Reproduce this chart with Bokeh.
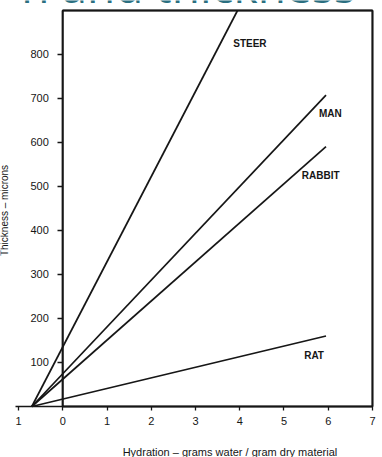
from bokeh.plotting import figure
from bokeh.models import (LinearAxis, FixedTicker, Range1d, Label, LabelSet,
                          ColumnDataSource)
from bokeh.core.properties import value
from bokeh.embed import file_html
from bokeh.resources import INLINE

# ---- data ----
species = ["STEER", "MAN", "RABBIT", "RAT"]
start_hydration = [-0.7, -0.7, -0.7, -0.7]
start_thickness = [0, 0, 0, 0]
end_hydration = [3.95, 5.95, 5.95, 5.95]
end_thickness = [899, 707, 590, 160]
label_hydration = [4.23, 6.05, 5.83, 5.68]
label_thickness = [824, 665, 524, 116]

x_ticks = [-1, 0, 1, 2, 3, 4, 5, 6, 7]
x_tick_labels = ["1", "0", "1", "2", "3", "4", "5", "6", "7"]
y_ticks = [100, 200, 300, 400, 500, 600, 700, 800]
x_bounds = (-1.07, 7)
y_bounds = (0, 899)

x_label = "Hydration \u2013 grams  water / gram dry material"
y_label = "Thickness \u2013 microns"
title_text = "n and thickness"

FONT = "Liberation Sans"
INK = "#161616"

p = figure(width=382, height=457,
           x_range=Range1d(-1.408, 7.227), y_range=Range1d(-115.8, 921.7),
           x_axis_type=None, y_axis_type=None,
           output_backend="svg", toolbar_location=None,
           min_border_left=0, min_border_right=0,
           min_border_top=0, min_border_bottom=0)
p.outline_line_color = None
p.background_fill_color = "white"
p.border_fill_color = "white"

# plot box: x from 0 to 7, thickness from 0 to the top
p.quad(left=[0], right=[x_bounds[1]], bottom=[y_bounds[0]], top=[y_bounds[1]],
       fill_color=None, line_color="#111111", line_width=1.8)


def style_axis(ax, tick_out):
    ax.axis_line_color = INK
    ax.axis_line_width = 1.6
    ax.major_tick_line_color = INK
    ax.major_tick_line_width = 1.3
    ax.major_tick_out = tick_out
    ax.major_tick_in = 0
    ax.minor_tick_line_color = None
    ax.major_label_text_font = FONT
    ax.major_label_text_font_size = "11px"
    ax.major_label_text_color = INK


xaxis = LinearAxis(ticker=FixedTicker(ticks=x_ticks), fixed_location=0,
                   bounds=x_bounds,
                   major_label_overrides={t: s for t, s in zip(x_ticks, x_tick_labels)})
style_axis(xaxis, 4)
xaxis.major_label_standoff = 7
p.add_layout(xaxis, "below")

yaxis = LinearAxis(ticker=FixedTicker(ticks=y_ticks), fixed_location=0,
                   bounds=y_bounds)
style_axis(yaxis, 5)
yaxis.major_label_standoff = 9
p.add_layout(yaxis, "left")

# box edges drawn again as plain axes lines (top and right), no ticks or labels
top_axis = LinearAxis(ticker=FixedTicker(ticks=x_ticks[1:]),
                      fixed_location=y_bounds[1], bounds=(0, x_bounds[1]),
                      major_label_overrides={t: "" for t in x_ticks})
style_axis(top_axis, 0)
top_axis.major_tick_line_color = None
p.add_layout(top_axis, "above")

right_axis = LinearAxis(ticker=FixedTicker(ticks=y_ticks),
                        fixed_location=x_bounds[1], bounds=y_bounds,
                        major_label_overrides={t: "" for t in y_ticks})
style_axis(right_axis, 0)
right_axis.major_tick_line_color = None
p.add_layout(right_axis, "right")

src = ColumnDataSource(dict(species=species,
                            x0=start_hydration, y0=start_thickness,
                            x1=end_hydration, y1=end_thickness,
                            lx=label_hydration, ly=label_thickness))
p.segment("x0", "y0", "x1", "y1", source=src, line_color=INK, line_width=1.7)

p.add_layout(LabelSet(x="lx", y="ly", text="species", source=src,
                      text_font=value(FONT), text_font_size="10px",
                      text_font_style="bold", text_color=INK,
                      text_align="center", text_baseline="middle"))

p.add_layout(Label(x=3.813, y=-102.2, text=x_label, text_font=FONT,
                   text_font_size="11px", text_color=INK,
                   text_align="center", text_baseline="middle"))
p.add_layout(Label(x=-1.318, y=445, text=y_label, text_font=FONT,
                   text_font_size="10px", text_color=INK, angle=1.5708,
                   text_align="center", text_baseline="middle"))
p.add_layout(Label(x=6.62, y=957, text=title_text, text_font="Open Sans",
                   text_font_size="46px", text_color="#2b6f80",
                   text_align="right", text_baseline="alphabetic"))

open("out.html", "w").write(file_html(p, INLINE))
